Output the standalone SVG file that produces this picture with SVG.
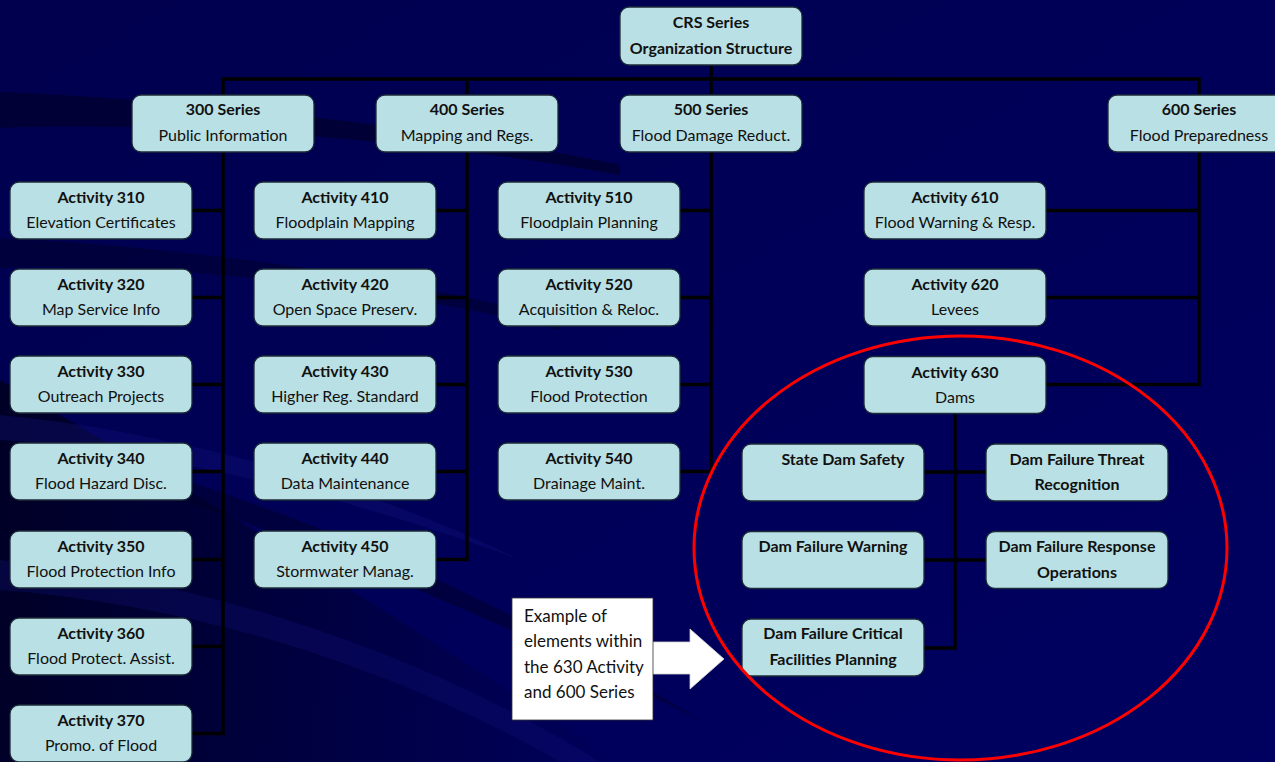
<svg xmlns="http://www.w3.org/2000/svg" width="1275" height="762" viewBox="0 0 1275 762">
  <defs>
    <linearGradient id="bg" x1="0" y1="0" x2="1" y2="1">
      <stop offset="0" stop-color="#00004e"/>
      <stop offset="0.6" stop-color="#00005a"/>
      <stop offset="1" stop-color="#000060"/>
    </linearGradient>
    <linearGradient id="ll" x1="0" y1="0" x2="1" y2="0">
      <stop offset="0" stop-color="#000018" stop-opacity="0.75"/>
      <stop offset="1" stop-color="#000018" stop-opacity="0"/>
    </linearGradient>
    <style>
      .box { fill: #b9e0e4; stroke: #1c2b38; stroke-width: 1.3; }
      .t { font-family: Lato, "Open Sans", "Liberation Sans", sans-serif; font-size: 16px; fill: #111111; text-anchor: middle; }
      .b { font-weight: bold; }
      .conn { fill: none; stroke: #000000; stroke-width: 3.5; stroke-linecap: square; }
      .note { font-family: Lato, "Open Sans", "Liberation Sans", sans-serif; font-size: 17px; fill: #111111; }
    </style>
  </defs>

  <!-- background -->
  <rect x="0" y="0" width="1275" height="762" fill="url(#bg)"/>
  <g id="background-swooshes">
    <path d="M0 380 L0 762 L620 762 C520 700 380 600 0 380 Z" fill="url(#ll)"/>
    <path d="M0 92 C150 98 400 120 620 165 L620 175 C400 135 150 122 0 128 Z" fill="#000030" opacity="0.8"/>
    <path d="M0 238 C150 245 380 270 560 320 L560 330 C380 285 150 262 0 268 Z" fill="#000030" opacity="0.6"/>
    <path d="M0 415 C160 430 360 480 520 560 C360 500 160 450 0 440 Z" fill="#10107a" opacity="0.35"/>
    <path d="M0 560 C200 580 420 650 600 762 L560 762 C400 670 200 605 0 590 Z" fill="#12127a" opacity="0.3"/>
    <path d="M150 470 C320 520 500 600 700 720 C500 620 320 545 150 490 Z" fill="#000025" opacity="0.5"/>
  </g>

  <!-- connectors -->
  <g id="connectors" class="conn">
    <path d="M711 65 V95 M223 79 H1199 M223 79 V95 M467 79 V95 M1199 79 V95"/>
    <path d="M223 152 V733.5 M192 210.5 H223 M192 297.5 H223 M192 384.5 H223 M192 471.5 H223 M192 559.5 H223 M192 646.5 H223 M192 733.5 H223"/>
    <path d="M467 152 V559.5 M436 210.5 H467 M436 297.5 H467 M436 384.5 H467 M436 471.5 H467 M436 559.5 H467"/>
    <path d="M711 152 V471.5 M680 210.5 H711 M680 297.5 H711 M680 384.5 H711 M680 471.5 H711"/>
    <path d="M1199 152 V384.5 M1046 210.5 H1199 M1046 297.5 H1199 M1046 384.5 H1199"/>
    <path d="M955 413 V648 M924 472 H986 M924 560 H986 M924 648 H955"/>
  </g>

  <!-- top -->
  <g id="crs"><rect class="box" x="620" y="7" width="182" height="58" rx="9"/>
    <text class="t b" x="711" y="27.5">CRS Series</text><text class="t b" x="711" y="53.5">Organization Structure</text></g>

  <g id="s300"><rect class="box" x="132" y="95" width="182" height="57" rx="9"/>
    <text class="t b" x="223" y="115">300 Series</text><text class="t" x="223" y="141">Public Information</text></g>
  <g id="s400"><rect class="box" x="376" y="95" width="182" height="57" rx="9"/>
    <text class="t b" x="467" y="115">400 Series</text><text class="t" x="467" y="141">Mapping and Regs.</text></g>
  <g id="s500"><rect class="box" x="620" y="95" width="182" height="57" rx="9"/>
    <text class="t b" x="711" y="115">500 Series</text><text class="t" x="711" y="141">Flood Damage Reduct.</text></g>
  <g id="s600"><rect class="box" x="1108" y="95" width="182" height="57" rx="9"/>
    <text class="t b" x="1199" y="115">600 Series</text><text class="t" x="1199" y="141">Flood Preparedness</text></g>

  <!-- 300 column -->
  <g id="a310"><rect class="box" x="10" y="182" width="182" height="57" rx="9"/>
    <text class="t b" x="101" y="203">Activity 310</text><text class="t" x="101" y="228">Elevation Certificates</text></g>
  <g id="a320"><rect class="box" x="10" y="269" width="182" height="57" rx="9"/>
    <text class="t b" x="101" y="290">Activity 320</text><text class="t" x="101" y="315">Map Service Info</text></g>
  <g id="a330"><rect class="box" x="10" y="356" width="182" height="57" rx="9"/>
    <text class="t b" x="101" y="377">Activity 330</text><text class="t" x="101" y="402">Outreach Projects</text></g>
  <g id="a340"><rect class="box" x="10" y="443" width="182" height="57" rx="9"/>
    <text class="t b" x="101" y="464">Activity 340</text><text class="t" x="101" y="489">Flood Hazard Disc.</text></g>
  <g id="a350"><rect class="box" x="10" y="531" width="182" height="57" rx="9"/>
    <text class="t b" x="101" y="552">Activity 350</text><text class="t" x="101" y="577">Flood Protection Info</text></g>
  <g id="a360"><rect class="box" x="10" y="618" width="182" height="57" rx="9"/>
    <text class="t b" x="101" y="639">Activity 360</text><text class="t" x="101" y="664">Flood Protect. Assist.</text></g>
  <g id="a370"><rect class="box" x="10" y="705" width="182" height="57" rx="9"/>
    <text class="t b" x="101" y="726">Activity 370</text><text class="t" x="101" y="751">Promo. of Flood</text></g>

  <!-- 400 column -->
  <g id="a410"><rect class="box" x="254" y="182" width="182" height="57" rx="9"/>
    <text class="t b" x="345" y="203">Activity 410</text><text class="t" x="345" y="228">Floodplain Mapping</text></g>
  <g id="a420"><rect class="box" x="254" y="269" width="182" height="57" rx="9"/>
    <text class="t b" x="345" y="290">Activity 420</text><text class="t" x="345" y="315">Open Space Preserv.</text></g>
  <g id="a430"><rect class="box" x="254" y="356" width="182" height="57" rx="9"/>
    <text class="t b" x="345" y="377">Activity 430</text><text class="t" x="345" y="402">Higher Reg. Standard</text></g>
  <g id="a440"><rect class="box" x="254" y="443" width="182" height="57" rx="9"/>
    <text class="t b" x="345" y="464">Activity 440</text><text class="t" x="345" y="489">Data Maintenance</text></g>
  <g id="a450"><rect class="box" x="254" y="531" width="182" height="57" rx="9"/>
    <text class="t b" x="345" y="552">Activity 450</text><text class="t" x="345" y="577">Stormwater Manag.</text></g>

  <!-- 500 column -->
  <g id="a510"><rect class="box" x="498" y="182" width="182" height="57" rx="9"/>
    <text class="t b" x="589" y="203">Activity 510</text><text class="t" x="589" y="228">Floodplain Planning</text></g>
  <g id="a520"><rect class="box" x="498" y="269" width="182" height="57" rx="9"/>
    <text class="t b" x="589" y="290">Activity 520</text><text class="t" x="589" y="315">Acquisition &amp; Reloc.</text></g>
  <g id="a530"><rect class="box" x="498" y="356" width="182" height="57" rx="9"/>
    <text class="t b" x="589" y="377">Activity 530</text><text class="t" x="589" y="402">Flood Protection</text></g>
  <g id="a540"><rect class="box" x="498" y="443" width="182" height="57" rx="9"/>
    <text class="t b" x="589" y="464">Activity 540</text><text class="t" x="589" y="489">Drainage Maint.</text></g>

  <!-- 600 column -->
  <g id="a610"><rect class="box" x="864" y="182" width="182" height="57" rx="9"/>
    <text class="t b" x="955" y="203">Activity 610</text><text class="t" x="955" y="228">Flood Warning &amp; Resp.</text></g>
  <g id="a620"><rect class="box" x="864" y="269" width="182" height="57" rx="9"/>
    <text class="t b" x="955" y="290">Activity 620</text><text class="t" x="955" y="315">Levees</text></g>
  <g id="a630"><rect class="box" x="864" y="356.5" width="182" height="57" rx="9"/>
    <text class="t b" x="955" y="377.5">Activity 630</text><text class="t" x="955" y="402.5">Dams</text></g>

  <!-- dams elements -->
  <g id="d1"><rect class="box" x="742" y="444" width="182" height="57" rx="9"/>
    <text class="t b" x="843" y="465">State Dam Safety</text></g>
  <g id="d2"><rect class="box" x="986" y="444" width="182" height="57" rx="9"/>
    <text class="t b" x="1077" y="464.5">Dam Failure Threat</text><text class="t b" x="1077" y="490">Recognition</text></g>
  <g id="d3"><rect class="box" x="742" y="531.5" width="182" height="57" rx="9"/>
    <text class="t b" x="833" y="552">Dam Failure Warning</text></g>
  <g id="d4"><rect class="box" x="986" y="531.5" width="182" height="57" rx="9"/>
    <text class="t b" x="1077" y="552">Dam Failure Response</text><text class="t b" x="1077" y="577.5">Operations</text></g>
  <g id="d5"><rect class="box" x="742" y="619" width="182" height="57" rx="9"/>
    <text class="t b" x="833" y="639">Dam Failure Critical</text><text class="t b" x="833" y="665">Facilities Planning</text></g>

  <!-- red ellipse -->
  <ellipse id="highlight" cx="960.5" cy="548" rx="266.5" ry="212" fill="none" stroke="#ff0000" stroke-width="3"/>

  <!-- note and arrow -->
  <g id="note">
    <path d="M640 642 H690 V629 L724 659 L690 689 V674 H640 Z" fill="#ffffff" stroke="#d0d0d0" stroke-width="0.8"/>
    <rect x="512" y="598" width="141" height="122" fill="#ffffff" stroke="#333333" stroke-width="0.8"/>
    <text class="note" x="524" y="621.5">Example of</text>
    <text class="note" x="524" y="647">elements within</text>
    <text class="note" x="524" y="672.5">the 630 Activity</text>
    <text class="note" x="524" y="698">and 600 Series</text>
  </g>
</svg>
